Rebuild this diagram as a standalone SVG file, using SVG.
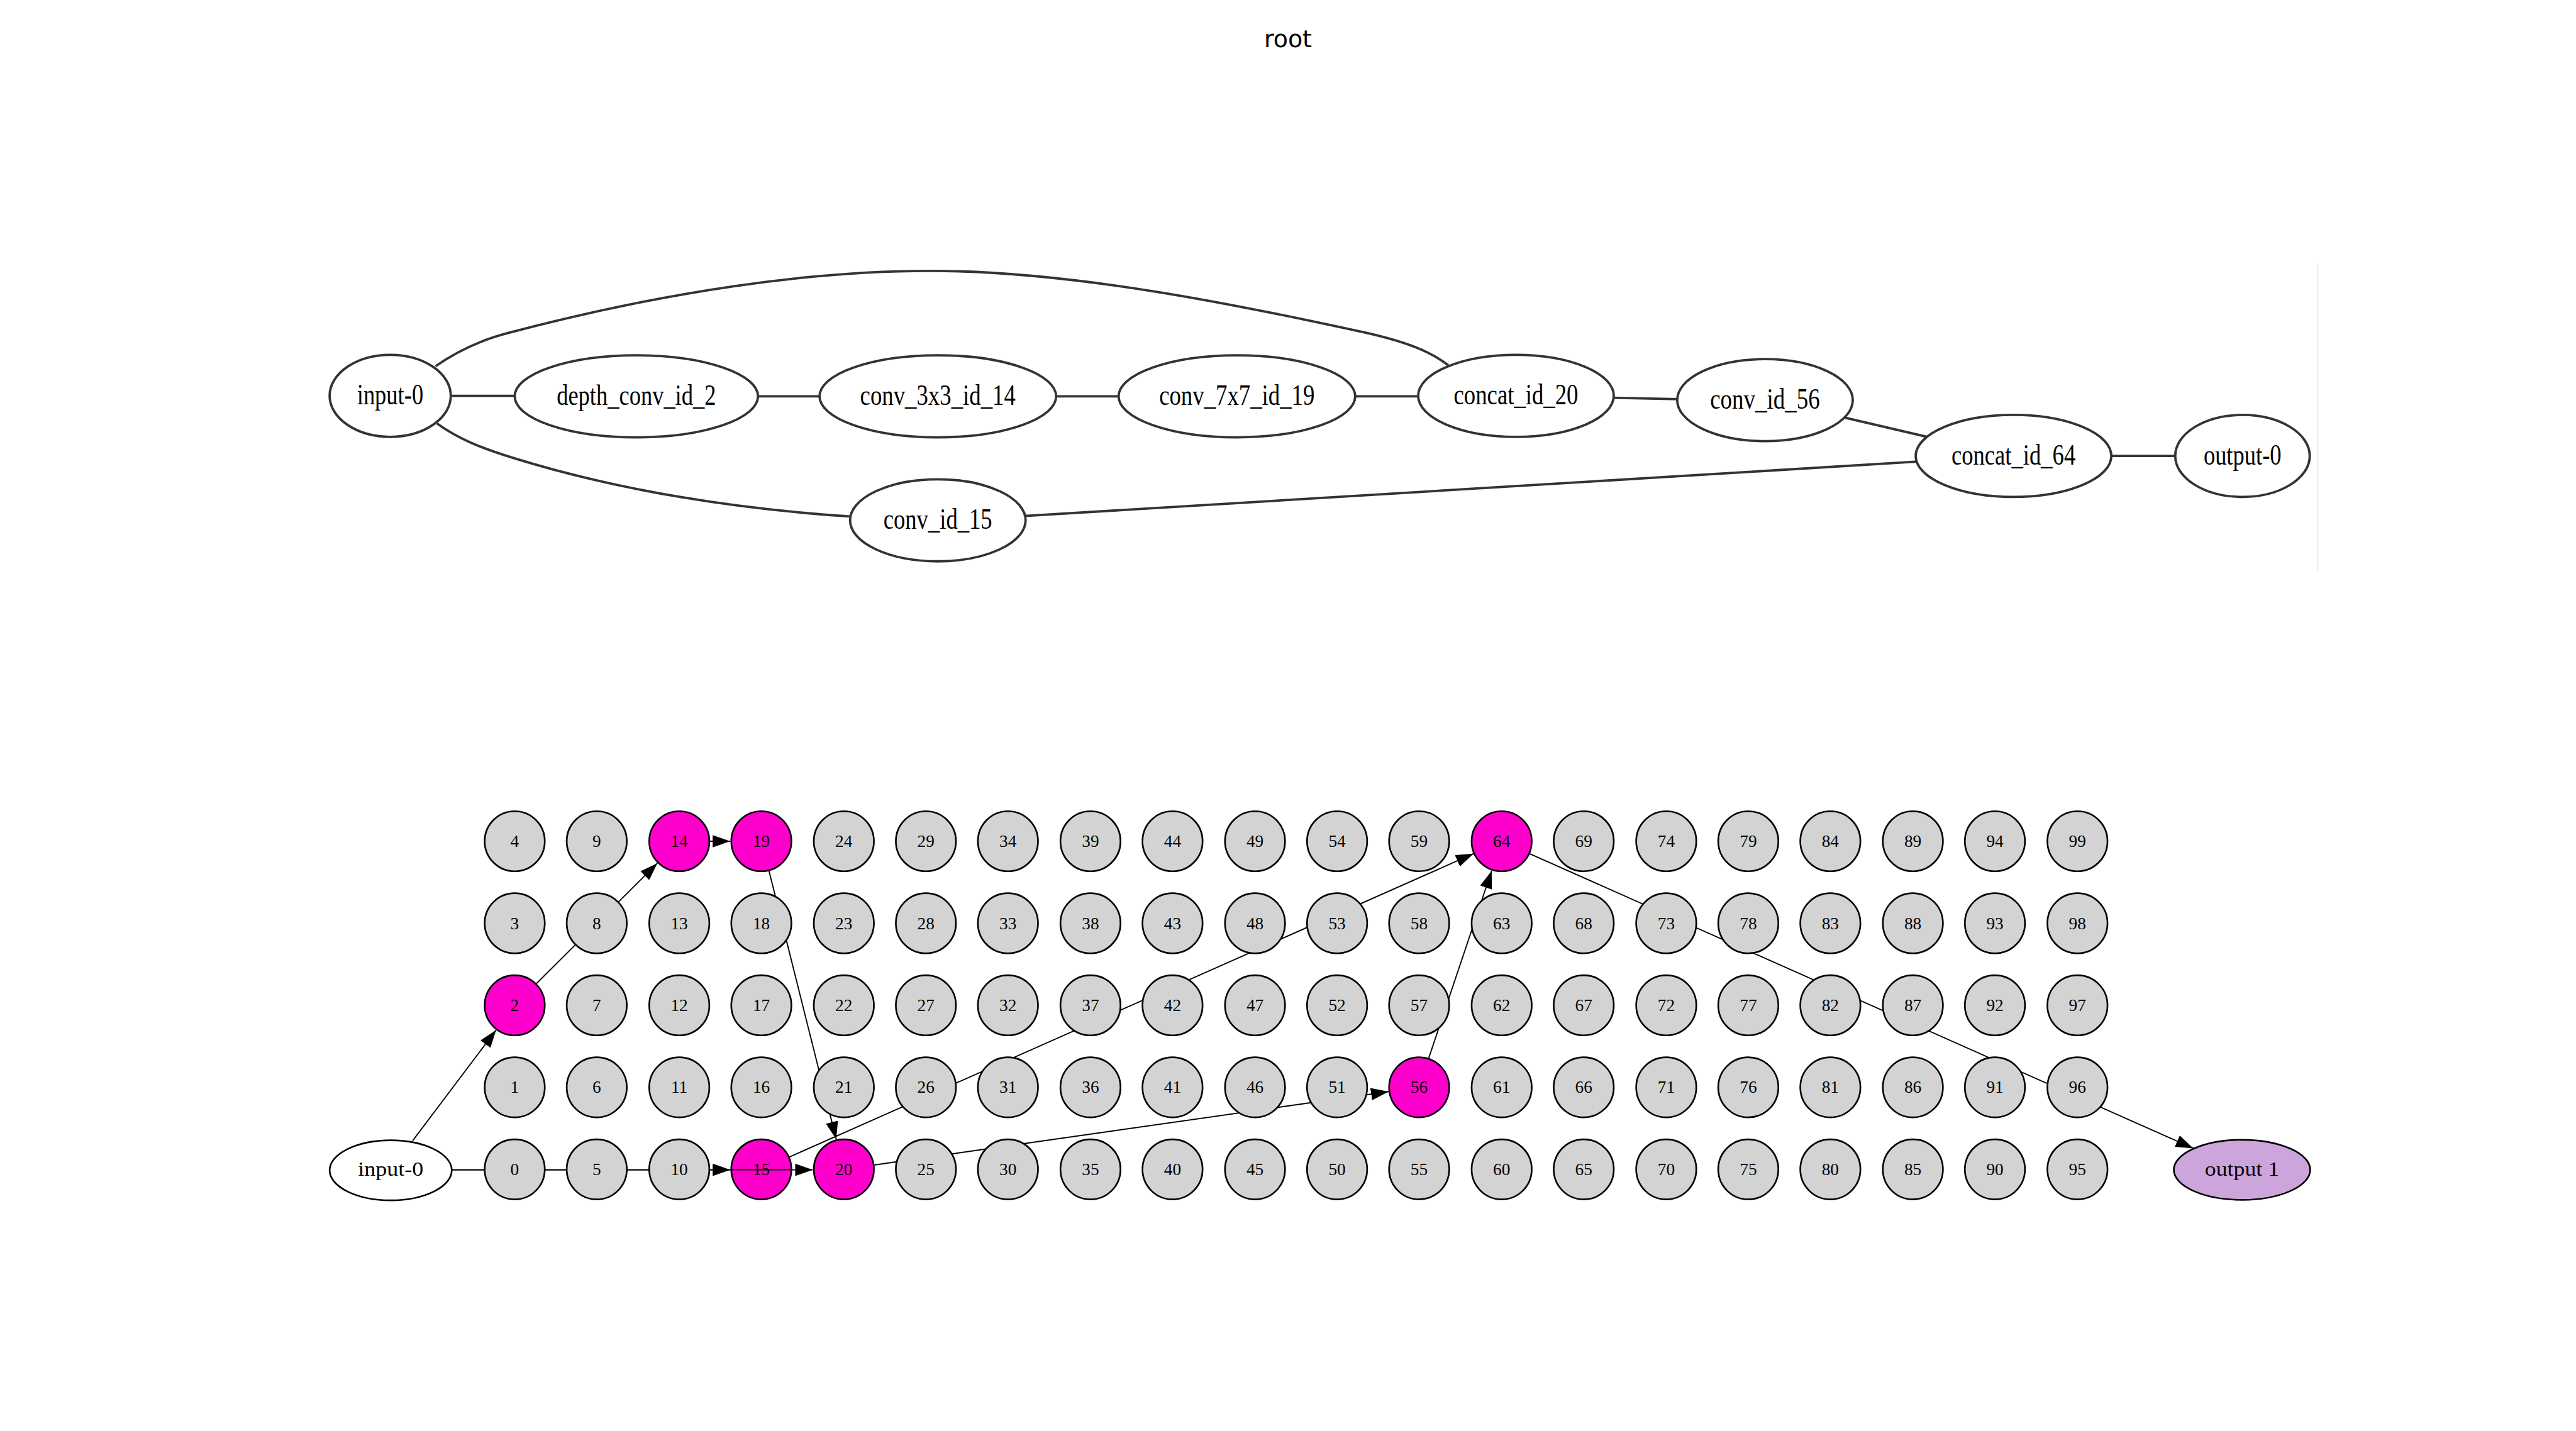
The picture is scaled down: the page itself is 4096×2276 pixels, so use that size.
<svg xmlns="http://www.w3.org/2000/svg" width="4096" height="2276" viewBox="0 0 4096 2276">
<style>
.title{font-family:"DejaVu Sans",sans-serif;font-size:50px;fill:#000;text-anchor:middle}
.t{font-family:"Liberation Serif","Times New Roman",serif;font-size:60px;fill:#000;text-anchor:middle}
.tn{fill:#fff;stroke:#333;stroke-width:5}
.te{fill:none;stroke:#333;stroke-width:5}
.g{fill:#d3d3d3;stroke:#000;stroke-width:3.5}
.m{fill:#ff00cc;stroke:#000;stroke-width:3.5}
.w{fill:#fff;stroke:#000;stroke-width:3.5}
.p{fill:#cca5dc;stroke:#000;stroke-width:3.5}
.d{font-family:"Liberation Serif","Times New Roman",serif;font-size:36px;fill:#000;text-anchor:middle}
.l{font-family:"Liberation Serif","Times New Roman",serif;font-size:42px;fill:#000;text-anchor:middle}
.be{fill:none;stroke:#000;stroke-width:2.5}
.ba{fill:none;stroke:#000;stroke-width:2.5;marker-end:url(#arr)}
</style>
<defs>
<marker id="arr" viewBox="0 0 37 26" refX="37" refY="13" markerWidth="37" markerHeight="26" markerUnits="userSpaceOnUse" orient="auto">
<path d="M0,0 L37,13 L0,26 z" fill="#000"/>
</marker>
</defs>
<rect width="4096" height="2276" fill="#fff"/>
<g transform="scale(0.7585)">
<text class="title" x="2700" y="99">root</text>
<line x1="4859" y1="551" x2="4859" y2="1197" stroke="#e6e6e6" stroke-width="2"/>

<g id="top-connectors">
<line class="te" x1="940" y1="830" x2="1085" y2="830"/>
<line class="te" x1="1585" y1="831" x2="1722" y2="831"/>
<line class="te" x1="2210" y1="831" x2="2350" y2="831"/>
<line class="te" x1="2836" y1="831" x2="2978" y2="831"/>
<line class="te" x1="3380" y1="834" x2="3518" y2="837"/>
<line class="te" x1="3868" y1="876" x2="4040" y2="916"/>
<line class="te" x1="4420" y1="956" x2="4565" y2="956"/>
<path class="te" d="M 913,768 C 960,735 1010,712 1070,697 C 1400,610 1700,568 1950,568 C 2250,568 2600,640 2860,697 C 2950,717 3000,738 3036,766"/>
<path class="te" d="M 916,888 C 960,920 1010,940 1075,960 C 1300,1030 1550,1068 1782,1083"/>
<line class="te" x1="2148" y1="1082" x2="4020" y2="968"/>
</g>

<g id="top-input-0"><ellipse class="tn" cx="818" cy="830" rx="127" ry="86"/><text class="t" x="818" y="848" textLength="139" lengthAdjust="spacingAndGlyphs">input-0</text></g>
<g id="top-depth_conv_id_2"><ellipse class="tn" cx="1334" cy="831" rx="255" ry="86"/><text class="t" x="1334" y="849" textLength="334" lengthAdjust="spacingAndGlyphs">depth_conv_id_2</text></g>
<g id="top-conv_3x3_id_14"><ellipse class="tn" cx="1966" cy="831" rx="248" ry="86"/><text class="t" x="1966" y="849" textLength="326" lengthAdjust="spacingAndGlyphs">conv_3x3_id_14</text></g>
<g id="top-conv_7x7_id_19"><ellipse class="tn" cx="2593" cy="831" rx="248" ry="86"/><text class="t" x="2593" y="849" textLength="326" lengthAdjust="spacingAndGlyphs">conv_7x7_id_19</text></g>
<g id="top-concat_id_20"><ellipse class="tn" cx="3178" cy="830" rx="205" ry="86"/><text class="t" x="3178" y="848" textLength="261" lengthAdjust="spacingAndGlyphs">concat_id_20</text></g>
<g id="top-conv_id_56"><ellipse class="tn" cx="3700" cy="839" rx="184" ry="86"/><text class="t" x="3700" y="857" textLength="230" lengthAdjust="spacingAndGlyphs">conv_id_56</text></g>
<g id="top-concat_id_64"><ellipse class="tn" cx="4221" cy="956" rx="205" ry="86"/><text class="t" x="4221" y="974" textLength="260" lengthAdjust="spacingAndGlyphs">concat_id_64</text></g>
<g id="top-output-0"><ellipse class="tn" cx="4701" cy="956" rx="141" ry="86"/><text class="t" x="4701" y="974" textLength="163" lengthAdjust="spacingAndGlyphs">output-0</text></g>
<g id="top-conv_id_15"><ellipse class="tn" cx="1966" cy="1091" rx="184" ry="86"/><text class="t" x="1966" y="1109" textLength="228" lengthAdjust="spacingAndGlyphs">conv_id_15</text></g>

<g id="n15"><circle class="m" cx="1596" cy="2452" r="63"/><text class="d" x="1596" y="2464">15</text></g>

<g id="bottom-connectors">
<line class="ba" x1="865" y1="2392" x2="1040" y2="2160"/>
<line class="ba" x1="1124" y1="2063" x2="1378" y2="1810"/>
<line class="ba" x1="1488" y1="1764" x2="1531" y2="1764"/>
<line class="ba" x1="1612" y1="1826" x2="1753" y2="2389"/>
<line class="ba" x1="948" y1="2453" x2="1531" y2="2453"/>
<line class="ba" x1="948" y1="2453" x2="1704" y2="2453"/>
<line class="ba" x1="1655" y1="2426" x2="3089" y2="1790"/>
<line class="ba" x1="1832" y1="2443" x2="2911" y2="2289"/>
<line class="ba" x1="2995" y1="2219" x2="3127" y2="1826"/>
<line class="ba" x1="3206" y1="1790" x2="4598" y2="2408"/>
</g>

<g id="b-input-0"><ellipse class="w" cx="819" cy="2454" rx="128" ry="63"/><text class="l" x="819" y="2466" textLength="137" lengthAdjust="spacingAndGlyphs">input-0</text></g>
<g id="b-output-1"><ellipse class="p" cx="4700" cy="2453" rx="143" ry="63"/><text class="l" x="4700" y="2466" textLength="156" lengthAdjust="spacingAndGlyphs">output 1</text></g>

<g id="n0"><circle class="g" cx="1079" cy="2452" r="63"/><text class="d" x="1079" y="2464">0</text></g>
<g id="n1"><circle class="g" cx="1079" cy="2280" r="63"/><text class="d" x="1079" y="2292">1</text></g>
<g id="n2"><circle class="m" cx="1079" cy="2108" r="63"/><text class="d" x="1079" y="2120">2</text></g>
<g id="n3"><circle class="g" cx="1079" cy="1936" r="63"/><text class="d" x="1079" y="1948">3</text></g>
<g id="n4"><circle class="g" cx="1079" cy="1764" r="63"/><text class="d" x="1079" y="1776">4</text></g>
<g id="n5"><circle class="g" cx="1251" cy="2452" r="63"/><text class="d" x="1251" y="2464">5</text></g>
<g id="n6"><circle class="g" cx="1251" cy="2280" r="63"/><text class="d" x="1251" y="2292">6</text></g>
<g id="n7"><circle class="g" cx="1251" cy="2108" r="63"/><text class="d" x="1251" y="2120">7</text></g>
<g id="n8"><circle class="g" cx="1251" cy="1936" r="63"/><text class="d" x="1251" y="1948">8</text></g>
<g id="n9"><circle class="g" cx="1251" cy="1764" r="63"/><text class="d" x="1251" y="1776">9</text></g>
<g id="n10"><circle class="g" cx="1424" cy="2452" r="63"/><text class="d" x="1424" y="2464">10</text></g>
<g id="n11"><circle class="g" cx="1424" cy="2280" r="63"/><text class="d" x="1424" y="2292">11</text></g>
<g id="n12"><circle class="g" cx="1424" cy="2108" r="63"/><text class="d" x="1424" y="2120">12</text></g>
<g id="n13"><circle class="g" cx="1424" cy="1936" r="63"/><text class="d" x="1424" y="1948">13</text></g>
<g id="n14"><circle class="m" cx="1424" cy="1764" r="63"/><text class="d" x="1424" y="1776">14</text></g>
<g id="n16"><circle class="g" cx="1596" cy="2280" r="63"/><text class="d" x="1596" y="2292">16</text></g>
<g id="n17"><circle class="g" cx="1596" cy="2108" r="63"/><text class="d" x="1596" y="2120">17</text></g>
<g id="n18"><circle class="g" cx="1596" cy="1936" r="63"/><text class="d" x="1596" y="1948">18</text></g>
<g id="n19"><circle class="m" cx="1596" cy="1764" r="63"/><text class="d" x="1596" y="1776">19</text></g>
<g id="n20"><circle class="m" cx="1769" cy="2452" r="63"/><text class="d" x="1769" y="2464">20</text></g>
<g id="n21"><circle class="g" cx="1769" cy="2280" r="63"/><text class="d" x="1769" y="2292">21</text></g>
<g id="n22"><circle class="g" cx="1769" cy="2108" r="63"/><text class="d" x="1769" y="2120">22</text></g>
<g id="n23"><circle class="g" cx="1769" cy="1936" r="63"/><text class="d" x="1769" y="1948">23</text></g>
<g id="n24"><circle class="g" cx="1769" cy="1764" r="63"/><text class="d" x="1769" y="1776">24</text></g>
<g id="n25"><circle class="g" cx="1941" cy="2452" r="63"/><text class="d" x="1941" y="2464">25</text></g>
<g id="n26"><circle class="g" cx="1941" cy="2280" r="63"/><text class="d" x="1941" y="2292">26</text></g>
<g id="n27"><circle class="g" cx="1941" cy="2108" r="63"/><text class="d" x="1941" y="2120">27</text></g>
<g id="n28"><circle class="g" cx="1941" cy="1936" r="63"/><text class="d" x="1941" y="1948">28</text></g>
<g id="n29"><circle class="g" cx="1941" cy="1764" r="63"/><text class="d" x="1941" y="1776">29</text></g>
<g id="n30"><circle class="g" cx="2113" cy="2452" r="63"/><text class="d" x="2113" y="2464">30</text></g>
<g id="n31"><circle class="g" cx="2113" cy="2280" r="63"/><text class="d" x="2113" y="2292">31</text></g>
<g id="n32"><circle class="g" cx="2113" cy="2108" r="63"/><text class="d" x="2113" y="2120">32</text></g>
<g id="n33"><circle class="g" cx="2113" cy="1936" r="63"/><text class="d" x="2113" y="1948">33</text></g>
<g id="n34"><circle class="g" cx="2113" cy="1764" r="63"/><text class="d" x="2113" y="1776">34</text></g>
<g id="n35"><circle class="g" cx="2286" cy="2452" r="63"/><text class="d" x="2286" y="2464">35</text></g>
<g id="n36"><circle class="g" cx="2286" cy="2280" r="63"/><text class="d" x="2286" y="2292">36</text></g>
<g id="n37"><circle class="g" cx="2286" cy="2108" r="63"/><text class="d" x="2286" y="2120">37</text></g>
<g id="n38"><circle class="g" cx="2286" cy="1936" r="63"/><text class="d" x="2286" y="1948">38</text></g>
<g id="n39"><circle class="g" cx="2286" cy="1764" r="63"/><text class="d" x="2286" y="1776">39</text></g>
<g id="n40"><circle class="g" cx="2458" cy="2452" r="63"/><text class="d" x="2458" y="2464">40</text></g>
<g id="n41"><circle class="g" cx="2458" cy="2280" r="63"/><text class="d" x="2458" y="2292">41</text></g>
<g id="n42"><circle class="g" cx="2458" cy="2108" r="63"/><text class="d" x="2458" y="2120">42</text></g>
<g id="n43"><circle class="g" cx="2458" cy="1936" r="63"/><text class="d" x="2458" y="1948">43</text></g>
<g id="n44"><circle class="g" cx="2458" cy="1764" r="63"/><text class="d" x="2458" y="1776">44</text></g>
<g id="n45"><circle class="g" cx="2631" cy="2452" r="63"/><text class="d" x="2631" y="2464">45</text></g>
<g id="n46"><circle class="g" cx="2631" cy="2280" r="63"/><text class="d" x="2631" y="2292">46</text></g>
<g id="n47"><circle class="g" cx="2631" cy="2108" r="63"/><text class="d" x="2631" y="2120">47</text></g>
<g id="n48"><circle class="g" cx="2631" cy="1936" r="63"/><text class="d" x="2631" y="1948">48</text></g>
<g id="n49"><circle class="g" cx="2631" cy="1764" r="63"/><text class="d" x="2631" y="1776">49</text></g>
<g id="n50"><circle class="g" cx="2803" cy="2452" r="63"/><text class="d" x="2803" y="2464">50</text></g>
<g id="n51"><circle class="g" cx="2803" cy="2280" r="63"/><text class="d" x="2803" y="2292">51</text></g>
<g id="n52"><circle class="g" cx="2803" cy="2108" r="63"/><text class="d" x="2803" y="2120">52</text></g>
<g id="n53"><circle class="g" cx="2803" cy="1936" r="63"/><text class="d" x="2803" y="1948">53</text></g>
<g id="n54"><circle class="g" cx="2803" cy="1764" r="63"/><text class="d" x="2803" y="1776">54</text></g>
<g id="n55"><circle class="g" cx="2975" cy="2452" r="63"/><text class="d" x="2975" y="2464">55</text></g>
<g id="n56"><circle class="m" cx="2975" cy="2280" r="63"/><text class="d" x="2975" y="2292">56</text></g>
<g id="n57"><circle class="g" cx="2975" cy="2108" r="63"/><text class="d" x="2975" y="2120">57</text></g>
<g id="n58"><circle class="g" cx="2975" cy="1936" r="63"/><text class="d" x="2975" y="1948">58</text></g>
<g id="n59"><circle class="g" cx="2975" cy="1764" r="63"/><text class="d" x="2975" y="1776">59</text></g>
<g id="n60"><circle class="g" cx="3148" cy="2452" r="63"/><text class="d" x="3148" y="2464">60</text></g>
<g id="n61"><circle class="g" cx="3148" cy="2280" r="63"/><text class="d" x="3148" y="2292">61</text></g>
<g id="n62"><circle class="g" cx="3148" cy="2108" r="63"/><text class="d" x="3148" y="2120">62</text></g>
<g id="n63"><circle class="g" cx="3148" cy="1936" r="63"/><text class="d" x="3148" y="1948">63</text></g>
<g id="n64"><circle class="m" cx="3148" cy="1764" r="63"/><text class="d" x="3148" y="1776">64</text></g>
<g id="n65"><circle class="g" cx="3320" cy="2452" r="63"/><text class="d" x="3320" y="2464">65</text></g>
<g id="n66"><circle class="g" cx="3320" cy="2280" r="63"/><text class="d" x="3320" y="2292">66</text></g>
<g id="n67"><circle class="g" cx="3320" cy="2108" r="63"/><text class="d" x="3320" y="2120">67</text></g>
<g id="n68"><circle class="g" cx="3320" cy="1936" r="63"/><text class="d" x="3320" y="1948">68</text></g>
<g id="n69"><circle class="g" cx="3320" cy="1764" r="63"/><text class="d" x="3320" y="1776">69</text></g>
<g id="n70"><circle class="g" cx="3493" cy="2452" r="63"/><text class="d" x="3493" y="2464">70</text></g>
<g id="n71"><circle class="g" cx="3493" cy="2280" r="63"/><text class="d" x="3493" y="2292">71</text></g>
<g id="n72"><circle class="g" cx="3493" cy="2108" r="63"/><text class="d" x="3493" y="2120">72</text></g>
<g id="n73"><circle class="g" cx="3493" cy="1936" r="63"/><text class="d" x="3493" y="1948">73</text></g>
<g id="n74"><circle class="g" cx="3493" cy="1764" r="63"/><text class="d" x="3493" y="1776">74</text></g>
<g id="n75"><circle class="g" cx="3665" cy="2452" r="63"/><text class="d" x="3665" y="2464">75</text></g>
<g id="n76"><circle class="g" cx="3665" cy="2280" r="63"/><text class="d" x="3665" y="2292">76</text></g>
<g id="n77"><circle class="g" cx="3665" cy="2108" r="63"/><text class="d" x="3665" y="2120">77</text></g>
<g id="n78"><circle class="g" cx="3665" cy="1936" r="63"/><text class="d" x="3665" y="1948">78</text></g>
<g id="n79"><circle class="g" cx="3665" cy="1764" r="63"/><text class="d" x="3665" y="1776">79</text></g>
<g id="n80"><circle class="g" cx="3837" cy="2452" r="63"/><text class="d" x="3837" y="2464">80</text></g>
<g id="n81"><circle class="g" cx="3837" cy="2280" r="63"/><text class="d" x="3837" y="2292">81</text></g>
<g id="n82"><circle class="g" cx="3837" cy="2108" r="63"/><text class="d" x="3837" y="2120">82</text></g>
<g id="n83"><circle class="g" cx="3837" cy="1936" r="63"/><text class="d" x="3837" y="1948">83</text></g>
<g id="n84"><circle class="g" cx="3837" cy="1764" r="63"/><text class="d" x="3837" y="1776">84</text></g>
<g id="n85"><circle class="g" cx="4010" cy="2452" r="63"/><text class="d" x="4010" y="2464">85</text></g>
<g id="n86"><circle class="g" cx="4010" cy="2280" r="63"/><text class="d" x="4010" y="2292">86</text></g>
<g id="n87"><circle class="g" cx="4010" cy="2108" r="63"/><text class="d" x="4010" y="2120">87</text></g>
<g id="n88"><circle class="g" cx="4010" cy="1936" r="63"/><text class="d" x="4010" y="1948">88</text></g>
<g id="n89"><circle class="g" cx="4010" cy="1764" r="63"/><text class="d" x="4010" y="1776">89</text></g>
<g id="n90"><circle class="g" cx="4182" cy="2452" r="63"/><text class="d" x="4182" y="2464">90</text></g>
<g id="n91"><circle class="g" cx="4182" cy="2280" r="63"/><text class="d" x="4182" y="2292">91</text></g>
<g id="n92"><circle class="g" cx="4182" cy="2108" r="63"/><text class="d" x="4182" y="2120">92</text></g>
<g id="n93"><circle class="g" cx="4182" cy="1936" r="63"/><text class="d" x="4182" y="1948">93</text></g>
<g id="n94"><circle class="g" cx="4182" cy="1764" r="63"/><text class="d" x="4182" y="1776">94</text></g>
<g id="n95"><circle class="g" cx="4355" cy="2452" r="63"/><text class="d" x="4355" y="2464">95</text></g>
<g id="n96"><circle class="g" cx="4355" cy="2280" r="63"/><text class="d" x="4355" y="2292">96</text></g>
<g id="n97"><circle class="g" cx="4355" cy="2108" r="63"/><text class="d" x="4355" y="2120">97</text></g>
<g id="n98"><circle class="g" cx="4355" cy="1936" r="63"/><text class="d" x="4355" y="1948">98</text></g>
<g id="n99"><circle class="g" cx="4355" cy="1764" r="63"/><text class="d" x="4355" y="1776">99</text></g>
</g>
</svg>
